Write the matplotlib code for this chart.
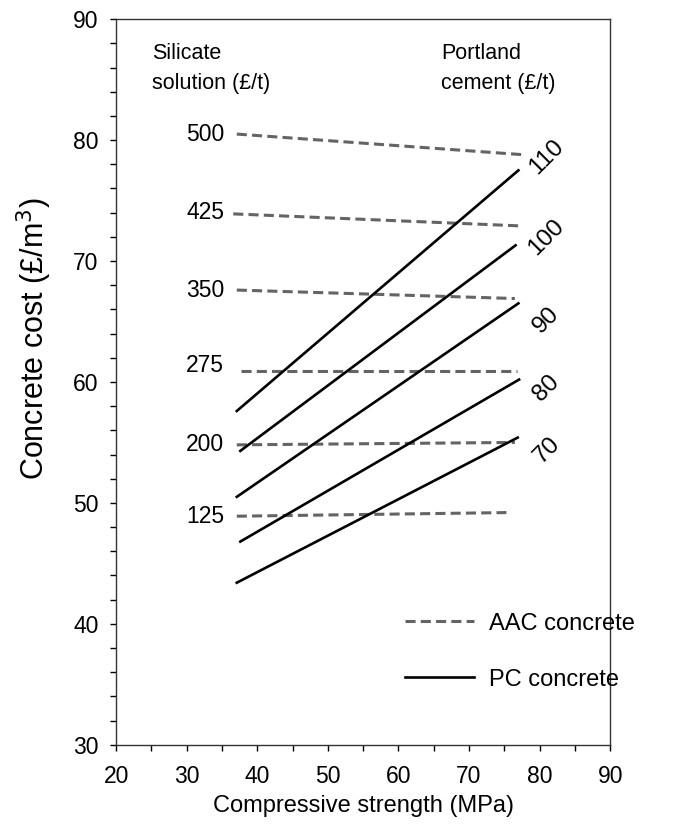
import matplotlib
matplotlib.use('Agg')
import matplotlib.pyplot as plt
from matplotlib.ticker import MultipleLocator

plt.rcParams['font.family'] = ['Liberation Sans', 'DejaVu Sans']

# AAC concrete: silicate solution price (£/t), cost at start / end of strength range
silicate_prices = ['500', '425', '350', '275', '200', '125']
aac_x_start = [37.1, 36.6, 37.1, 37.7, 37.1, 37.1]
aac_x_end = [77.5, 77.5, 76.5, 76.8, 76.5, 75.3]
aac_y_start = [80.5, 73.9, 67.6, 60.9, 54.8, 48.9]
aac_y_end = [78.8, 72.9, 66.9, 60.9, 55.0, 49.2]

# PC concrete: portland cement price (£/t)
cement_prices = ['110', '100', '90', '80', '70']
pc_x_start = [37.1, 37.6, 37.1, 37.6, 37.1]
pc_x_end = [77.0, 76.6, 77.0, 77.1, 76.9]
pc_y_start = [57.6, 54.3, 50.5, 46.8, 43.4]
pc_y_end = [77.5, 71.3, 66.5, 60.2, 55.4]

# where the labels sit
silicate_label_y = [80.5, 74.0, 67.6, 61.4, 54.8, 48.9]
cement_label_y = [78.6, 72.0, 65.1, 59.5, 54.4]

fig = plt.figure(figsize=(6.91, 8.34), dpi=100)
ax = fig.add_axes([0.168, 0.107, 0.715, 0.870])

for i in range(len(silicate_prices)):
    ax.plot([aac_x_start[i], aac_x_end[i]], [aac_y_start[i], aac_y_end[i]],
            color='#646464', lw=2.2, dashes=(3.3, 1.7),
            label='AAC concrete' if i == 0 else None)
    ax.text(35.3, silicate_label_y[i], silicate_prices[i], ha='right', va='center', fontsize=16.5)

for i in range(len(cement_prices)):
    ax.plot([pc_x_start[i], pc_x_end[i]], [pc_y_start[i], pc_y_end[i]],
            color='black', lw=1.9, label='PC concrete' if i == 0 else None)
    ax.text(81.0, cement_label_y[i], cement_prices[i], rotation=45,
            ha='center', va='center', fontsize=17.5, rotation_mode='anchor')

ax.text(0.073, 0.967, 'Silicate\nsolution (£/t)', transform=ax.transAxes,
        ha='left', va='top', fontsize=15.5, linespacing=1.55)
ax.text(0.658, 0.967, 'Portland\ncement (£/t)', transform=ax.transAxes,
        ha='left', va='top', fontsize=15.5, linespacing=1.55)

ax.legend(loc='upper left', bbox_to_anchor=(0.585, 0.182), frameon=False,
          fontsize=17, handlelength=2.9, handletextpad=0.64, labelspacing=1.44,
          borderpad=0, borderaxespad=0)

ax.set_xlim(20, 90)
ax.set_ylim(30, 90)
ax.xaxis.set_major_locator(MultipleLocator(10))
ax.xaxis.set_minor_locator(MultipleLocator(5))
ax.yaxis.set_major_locator(MultipleLocator(10))
ax.yaxis.set_minor_locator(MultipleLocator(2))
ax.tick_params(which='both', direction='out', length=4.5, width=1, labelsize=16.5)
ax.tick_params(axis='x', pad=10)
ax.tick_params(axis='y', pad=8)
for s in ax.spines.values():
    s.set_linewidth(1)
    s.set_color('#333333')

ax.set_xlabel('Compressive strength (MPa)', fontsize=17, labelpad=5)
ax.set_ylabel('Concrete cost (£/m$^3$)', fontsize=22)
ax.yaxis.set_label_coords(-0.125, 0.56)

fig.savefig('out.png', dpi=100)
